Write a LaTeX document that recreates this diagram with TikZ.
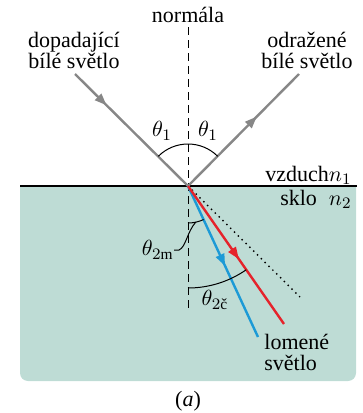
\documentclass[tikz,border=0pt]{standalone}
\usepackage{amsmath}
\usepackage{fontspec}
\setmainfont{Liberation Serif}
\usetikzlibrary{arrows.meta,decorations.markings}
\definecolor{glass}{HTML}{BEDCD5}
\definecolor{raygray}{HTML}{878787}
\definecolor{rayred}{HTML}{E5232B}
\definecolor{rayblue}{HTML}{1C9AD6}
\begin{document}
\begin{tikzpicture}[x=0.5pt, y=0.5pt, every node/.style={font=\rmfamily\fontsize{11}{10.5}\selectfont, inner sep=0pt},
  ray/.style={line width=1.2pt},
  tipat/.style={postaction={decorate}, decoration={markings, mark=at position #1 with {\arrow{Triangle[length=6pt,width=4.4pt]}}}},
  anglearc/.style={line width=0.5pt}]
\useasboundingbox (0,0) rectangle (363,-413);
% glass block and surface
\fill[glass] (20,-186) -- (20,-373) arc[start angle=180, end angle=270, radius=8] -- (348,-381) arc[start angle=270, end angle=360, radius=8] -- (356,-186) -- cycle;
\draw[line width=0.6pt] (20,-186) -- (357,-186);
\coordinate (O) at (188,-186);
\coordinate (inc) at (75,-74);
\coordinate (refl) at (299,-74);
\coordinate (red) at (284,-324);
\coordinate (blue) at (258,-337);
\coordinate (dot) at (300,-297);
\coordinate (ntop) at (188,-27);
\coordinate (nbot) at (188,-310);
\draw[anglearc, dash pattern=on 4pt off 2.5pt] (ntop) -- (nbot);
\draw[line width=0.7pt, dash pattern=on 0.7pt off 2pt] (O) -- (dot);
% rays
\draw[ray, raygray, tipat=0.28] (inc) -- (O);
\draw[ray, raygray, tipat=0.62] (O) -- (refl);
\draw[ray, rayblue, tipat=0.53] (O) -- (blue);
\draw[ray, rayred, tipat=0.53] (O) -- (red);
% angles
\draw[anglearc] (O) ++(45:42) arc[start angle=45, end angle=135, radius=42];
\draw[anglearc] (O) ++(-90:37) arc[start angle=-90, end angle=-65.1, radius=37];
\draw[anglearc] (O) ++(-90:102) arc[start angle=-90, end angle=-55.2, radius=102];
\coordinate (lead) at (195.7,-222.2);
\node (t1l) at (162,-131) {$\theta_1$};
\node (t1r) at (208,-131) {$\theta_1$};
\node[anchor=east] (t2m) at (174,-250) {$\theta_{2\text{m}}$};
\node (t2c) at (215,-300) {$\theta_{2\text{č}}$};
\draw[anglearc] (lead) .. controls (187,-232) and (186,-247) .. (179,-250) -- (t2m.east);
% labels
\node (normlbl) at (188,-15) {normála};
\node[align=center] (inclbl) at (74,-50) {dopadající\\bílé světlo};
\node[align=center] (refllbl) at (307,-50) {odražené\\bílé světlo};
\node[anchor=base east] (airlbl) at (352,-181) {vzduch$n_1$};
\node[anchor=base east] (glasslbl) at (352,-205) {sklo\hspace{6pt}$n_2$};
\node[align=left, anchor=west] (refrlbl) at (264,-352) {lomené\\světlo};
\node (caption) at (188,-401) {(\textit{a})};
\end{tikzpicture}
\end{document}
